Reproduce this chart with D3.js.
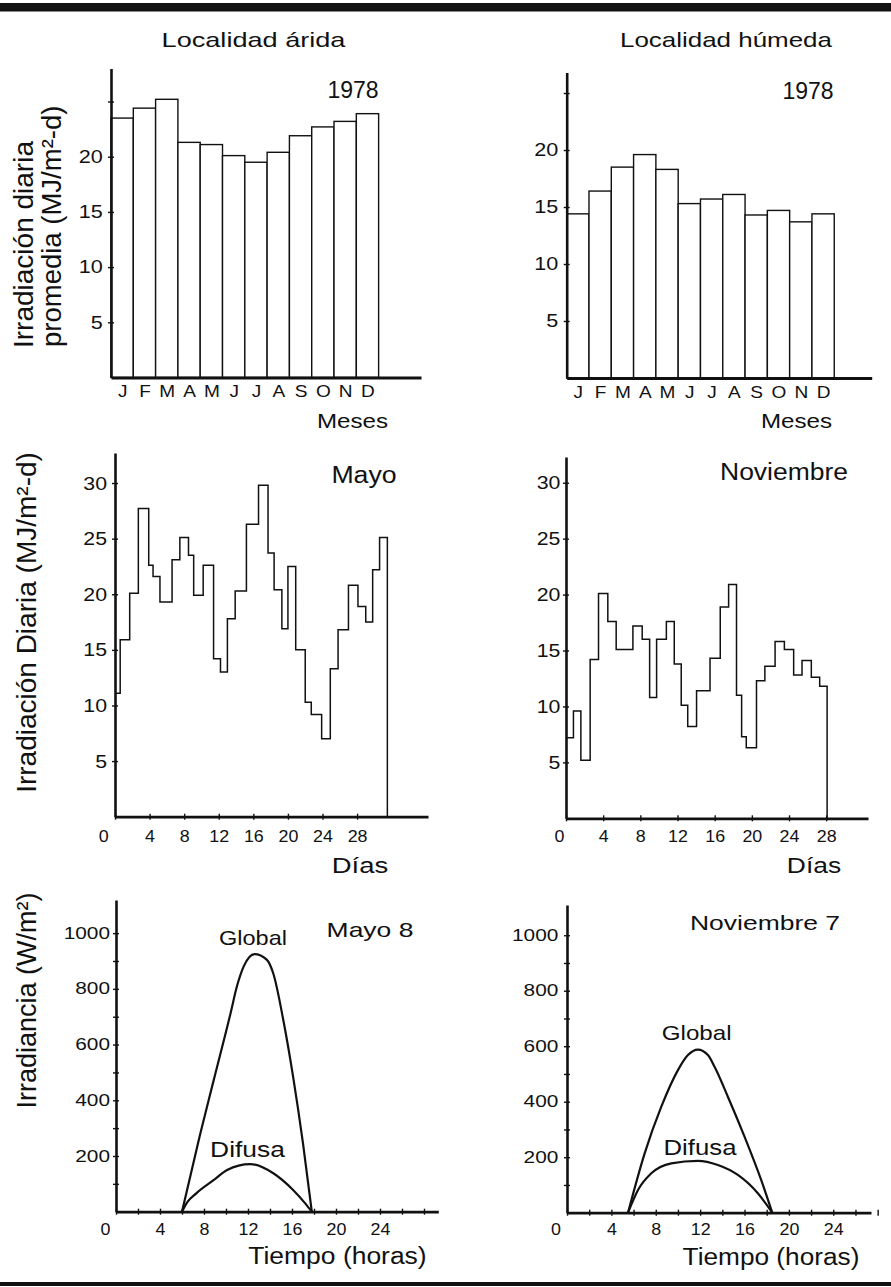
<!DOCTYPE html>
<html>
<head>
<meta charset="utf-8">
<script src="https://cdn.jsdelivr.net/npm/d3@7"></script>
<style>
  body { margin: 0; background: #fff; }
  svg text { font-family: "Liberation Sans", Arial, Helvetica, sans-serif; fill: #111; }
</style>
</head>
<body>
<svg id="chart" width="891" height="1287"></svg>
<script>
// monthly mean daily irradiation, 1978 (MJ/m2-d)
var months = ["J","F","M","A","M","J","J","A","S","O","N","D"];
var aridMonthly = [23.5, 24.4, 25.2, 21.3, 21.1, 20.1, 19.5, 20.4, 21.9, 22.7, 23.2, 23.9];
var humidMonthly = [14.4, 16.4, 18.5, 19.6, 18.3, 15.3, 15.7, 16.1, 14.3, 14.7, 13.7, 14.4];

// daily irradiation steps: day where each step starts (last one = end of trace)
var mayDays = [0, 0.6, 1.7, 2.7, 3.9, 4.4, 5.2, 6.6, 7.5, 8.5, 9.1, 10.2, 11.4, 12.2, 13.0, 13.9, 15.2,
               16.6, 17.7, 18.4, 19.3, 20.0, 20.9, 22.0, 22.7, 23.9, 24.9, 25.8, 27.0, 28.1, 29.0, 29.8, 30.6, 31.5];
var mayVals = [11.1, 15.9, 20.1, 27.7, 22.6, 21.6, 19.3, 23.1, 25.1, 23.5, 19.9, 22.6, 14.2, 13.0, 17.8, 20.3,
               26.3, 29.8, 23.7, 20.4, 16.9, 22.5, 15.0, 10.3, 9.2, 7.0, 13.3, 16.8, 20.8, 18.9, 17.5, 22.2, 25.1];
var novDays = [0, 0.8, 1.6, 2.6, 3.5, 4.5, 5.4, 7.2, 8.2, 9.0, 9.75, 10.8, 11.65, 12.4, 13.1, 14.05,
               15.5, 16.6, 17.5, 18.35, 18.9, 19.4, 20.5, 21.4, 22.5, 23.5, 24.5, 25.4, 26.4, 27.3, 28.1];
var novVals = [7.2, 9.6, 5.2, 14.2, 20.1, 17.6, 15.1, 17.2, 16.0, 10.8, 16.0, 17.6, 13.8, 10.1, 8.2,
               11.4, 14.3, 18.9, 20.9, 11.0, 7.3, 6.3, 12.3, 13.6, 15.8, 15.1, 12.8, 14.1, 12.6, 11.8];

// hourly irradiance (W/m2)
var mayGlobalH = [6.0, 7.6, 8.9, 10.4, 11.0, 11.6, 12.6, 13.7, 14.3, 15.2, 16.1, 17.0, 17.8];
var mayGlobalW = [0, 270, 475, 710, 810, 880, 925, 905, 855, 690, 485, 245, 0];
var mayDifH = [6.0, 6.5, 7.3, 8.9, 10.1, 12.2, 14.3, 16.1, 17.2, 17.8];
var mayDifW = [0, 35, 66, 114, 150, 171, 138, 78, 30, 0];
var novGlobalH = [5.5, 7.0, 8.5, 10.0, 10.9, 11.8, 12.7, 13.3, 14.5, 16.0, 17.5, 18.5];
var novGlobalW = [0, 214, 382, 514, 568, 588, 568, 526, 418, 274, 118, 0];
var novDifH = [5.5, 6.4, 7.6, 9.4, 11.8, 13.6, 15.4, 17.2, 18.5];
var novDifW = [0, 82, 142, 178, 187, 172, 136, 70, 0];

// ticks
var barTicks = [5, 10, 15, 20, 25];
var barLabels = [5, 10, 15, 20];
var dailyTicks = [5, 10, 15, 20, 25, 30];
var dayTicks = [0, 4, 8, 12, 16, 20, 24, 28];
var hourTicks = d3.range(0, 29, 2);
var hourLabels = [0, 4, 8, 12, 16, 20, 24];
var wattTicks = d3.range(100, 1001, 100);
var wattLabels = [200, 400, 600, 800, 1000];

var svg = d3.select("#chart");
svg.append("rect").attr("width", 891).attr("height", 1287).attr("fill", "#fff");

// widen text a bit, the scan's type is broader than Arial
function stretch(sel, k) {
  sel.each(function() {
    var w = this.getComputedTextLength();
    if (w > 0) d3.select(this).attr("textLength", w * k).attr("lengthAdjust", "spacingAndGlyphs");
  });
}

function label(x, y, str, size, k, anchor) {
  var t = svg.append("text").attr("x", x).attr("y", y).attr("font-size", size)
    .attr("text-anchor", anchor || "middle").text(str);
  if (k && k != 1) stretch(t, k);
  return t;
}

function vlabel(x, y, str, size, anchor) {
  return svg.append("text").attr("transform", "translate(" + x + "," + y + ") rotate(-90)")
    .attr("font-size", size).attr("text-anchor", anchor || "middle").text(str);
}

function yAxis(y, x0, ticks, labels, size, pad, k) {
  var ax = d3.axisLeft(y).tickValues(ticks).tickSize(3).tickSizeOuter(0).tickPadding(pad)
    .tickFormat(function(d) { return labels.indexOf(d) >= 0 ? d : ""; });
  var a = svg.append("g").attr("transform", "translate(" + x0 + ",0)").call(ax)
    .attr("font-size", size).attr("font-family", null);
  a.select(".domain").attr("stroke", "#111").attr("stroke-width", 2.6);
  a.selectAll(".tick line").attr("x1", 3).attr("stroke", "#111").attr("stroke-width", 1.4);
  stretch(a.selectAll(".tick text"), k);
  return a;
}

function xAxis(x, y0, ticks, labels, size, pad, k, zeroShift) {
  var ax = d3.axisBottom(x).tickValues(ticks).tickSize(3).tickSizeOuter(0).tickPadding(pad)
    .tickFormat(function(d) { return labels.indexOf(d) >= 0 ? d : ""; });
  var a = svg.append("g").attr("transform", "translate(0," + y0 + ")").call(ax)
    .attr("font-size", size).attr("font-family", null);
  a.select(".domain").attr("stroke", "#111").attr("stroke-width", 2.8);
  a.selectAll(".tick line").attr("y1", -3).attr("stroke", "#111").attr("stroke-width", 1.4);
  a.selectAll(".tick text").filter(function(d) { return d === 0; }).attr("dx", zeroShift);
  stretch(a.selectAll(".tick text"), k);
  return a;
}

// ---------- monthly bars ----------
function bars(vals, x, y, labelY) {
  svg.append("g").selectAll("rect").data(vals).enter().append("rect")
    .attr("x", function(d, i) { return x(i); })
    .attr("width", function(d, i) { return x(i + 1) - x(i); })
    .attr("y", function(d) { return y(d); })
    .attr("height", function(d) { return y(0) - y(d); })
    .attr("fill", "#fff").attr("stroke", "#111").attr("stroke-width", 1.4);
  var ax = d3.axisBottom(x).tickValues(d3.range(12).map(function(i) { return i + 0.5; }))
    .tickSize(0).tickSizeOuter(0).tickPadding(labelY - y(0) - 12.1)
    .tickFormat(function(d) { return months[Math.floor(d)]; });
  var a = svg.append("g").attr("transform", "translate(0," + y(0) + ")").call(ax)
    .attr("font-size", 17).attr("font-family", null);
  a.select(".domain").attr("stroke", "#111").attr("stroke-width", 2.8);
  stretch(a.selectAll(".tick text"), 1.12);
}

var xA = d3.scaleLinear().domain([0, 13.9]).range([111, 421]);
var yA = d3.scaleLinear().domain([0, 28]).range([377.5, 68.4]);
bars(aridMonthly, xA, yA, 397);
yAxis(yA, 111, barTicks, barLabels, 18, 5.3, 1.2);

var xB = d3.scaleLinear().domain([0, 13.68]).range([566.7, 871.7]);
var yB = d3.scaleLinear().domain([0, 26.8]).range([378, 72.5]);
bars(humidMonthly, xB, yB, 398);
yAxis(yB, 566.7, barTicks, barLabels, 18, 5.4, 1.2);

label(253.5, 46.7, "Localidad árida", 21, 1.29);
label(726, 46.7, "Localidad húmeda", 21, 1.235);
label(353, 98, "1978", 23, 1);
label(808, 99, "1978", 23, 1);
label(352.5, 428, "Meses", 21, 1.15);
label(796.5, 428, "Meses", 21, 1.15);
vlabel(33, 348, "Irradiación diaria", 28, "start");
vlabel(61, 347, "promedia (MJ/m²-d)", 27.5, "start");

// ---------- daily steps ----------
function steps(days, vals, x, y) {
  var pts = vals.map(function(v, i) { return [days[i], v]; });
  pts.push([days[days.length - 1], vals[vals.length - 1]]);
  pts.push([days[days.length - 1], 0]);
  var line = d3.line().x(function(d) { return x(d[0]); }).y(function(d) { return y(d[1]); })
    .curve(d3.curveStepAfter);
  svg.append("path").attr("d", line(pts)).attr("fill", "none")
    .attr("stroke", "#111").attr("stroke-width", 1.5);
}

var xC = d3.scaleLinear().domain([0, 36.2]).range([115, 428]);
var yC = d3.scaleLinear().domain([0, 32.7]).range([816.7, 453]);
steps(mayDays, mayVals, xC, yC);
yAxis(yC, 115, dailyTicks, dailyTicks, 19, 5, 1.12);
xAxis(xC, 816.7, dayTicks, dayTicks, 17, 10.2, 1.05, -11.7);

var xD = d3.scaleLinear().domain([0, 32.5]).range([566, 868]);
var yD = d3.scaleLinear().domain([0, 32.3]).range([818.3, 457]);
steps(novDays, novVals, xD, yD);
yAxis(yD, 566, dailyTicks, dailyTicks, 19, 2.6, 1.12);
xAxis(xD, 818.3, dayTicks, dayTicks, 17, 8.6, 1.05, -7);

label(364, 483, "Mayo", 23, 1.16);
label(784, 480, "Noviembre", 23, 1.15);
label(360, 873, "Días", 22, 1.25);
label(814, 873, "Días", 22, 1.2);
vlabel(36, 622.5, "Irradiación Diaria (MJ/m²-d)", 28);

// ---------- hourly curves ----------
function curve(hs, ws, x, y) {
  var line = d3.line().x(function(d, i) { return x(hs[i]); }).y(function(d) { return y(d); })
    .curve(d3.curveMonotoneX);
  svg.append("path").attr("d", line(ws)).attr("fill", "none")
    .attr("stroke", "#111").attr("stroke-width", 2.2);
}

var xE = d3.scaleLinear().domain([0, 29.3]).range([116, 438.3]);
var yE = d3.scaleLinear().domain([0, 1119]).range([1211.7, 900]);
curve(mayGlobalH, mayGlobalW, xE, yE);
curve(mayDifH, mayDifW, xE, yE);
yAxis(yE, 116, wattTicks, wattLabels, 16, 3, 1.3);
xAxis(xE, 1211.7, hourTicks, hourLabels, 17, 8.2, 1.05, -11);

var xF = d3.scaleLinear().domain([0, 27.4]).range([567, 871]);
var yF = d3.scaleLinear().domain([0, 1109]).range([1212.7, 905]);
curve(novGlobalH, novGlobalW, xF, yF);
curve(novDifH, novDifW, xF, yF);
yAxis(yF, 567, wattTicks, wattLabels, 16, 5.7, 1.3);
xAxis(xF, 1212.7, hourTicks, hourLabels, 17, 7.2, 1.05, -11.5);

label(253, 945, "Global", 21, 1.12);
label(247.5, 1156.7, "Difusa", 22, 1.2);
label(370, 937, "Mayo 8", 21, 1.26);
label(337.5, 1264, "Tiempo (horas)", 23, 1.15);
label(696.7, 1040, "Global", 21, 1.15);
label(700, 1155, "Difusa", 22, 1.17);
label(765, 930, "Noviembre 7", 21, 1.26);
label(771, 1265, "Tiempo (horas)", 23, 1.14);
vlabel(36, 1000.5, "Irradiancia (W/m²)", 27);

// page rules
svg.append("rect").attr("x", 0).attr("y", 3).attr("width", 891).attr("height", 8.5).attr("fill", "#111");
svg.append("rect").attr("x", 0).attr("y", 1282).attr("width", 891).attr("height", 4).attr("fill", "#111");
</script>
</body>
</html>
